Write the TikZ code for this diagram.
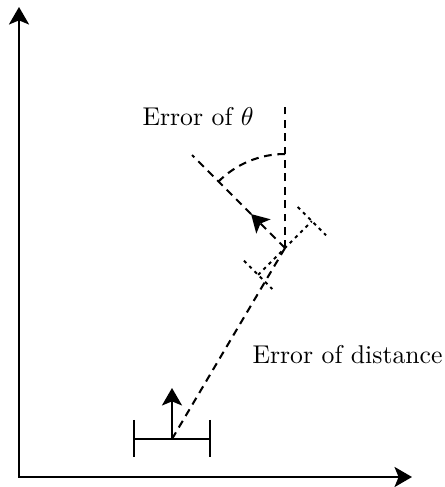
\documentclass[tikz,border=0pt]{standalone}
\usetikzlibrary{arrows.meta,calc}
\tikzset{
  tip/.tip={Stealth[length=6.8pt,width=7.8pt,inset=1.6pt]},
  axis/.style={line width=1pt,{tip}-{tip}},
  robot/.style={line width=0.9pt},
  guide/.style={line width=0.8pt,dash pattern=on 3pt off 2.2pt},
  errbar/.style={line width=0.8pt,dash pattern=on 1.3pt off 1.6pt},
  lbl/.style={inner sep=0pt,anchor=base west,font=\normalsize}
}
\begin{document}
\begin{tikzpicture}[x=0.389pt,y=0.389pt]
\useasboundingbox (0,0) rectangle (445,487);
% axes
\coordinate (ytop) at (19,480);
\coordinate (xend) at (412,10);
\draw[axis] (ytop) |- (xend);
% robot
\coordinate (bl) at (134,48);
\coordinate (br) at (210,48);
\coordinate (bltop) at (134,67);
\coordinate (blbot) at (134,30);
\coordinate (brtop) at (210,67);
\coordinate (brbot) at (210,30);
\coordinate (rc) at (172,48);
\coordinate (rh) at (172,99);
\draw[robot] (bl) -- (br);
\draw[robot] (bltop) -- (blbot);
\draw[robot] (brtop) -- (brbot);
\draw[robot,-{tip}] (rc) -- (rh);
% estimated pose
\coordinate (J) at (285,239);
\coordinate (vtop) at (285,382);
\coordinate (htip) at ($(J)+(135:48)$);
\coordinate (hend) at ($(J)+(135:131.5)$);
\draw[guide] (rc) -- (J);
\draw[guide] (J) -- (vtop);
\draw[guide,-{tip}] (J) -- (htip);
\draw[guide] (htip) -- (hend);
\draw[guide] ($(J)+(90:94)$) arc[start angle=90,end angle=135,radius=94];
% distance error bar
\coordinate (eu) at ($(J)+(45:38)$);
\coordinate (el) at ($(J)+(225:38)$);
\draw[errbar] (el) -- (eu);
\draw[errbar] ($(eu)+(135:20)$) -- ($(eu)+(-45:20)$);
\draw[errbar] ($(el)+(135:20)$) -- ($(el)+(-45:20)$);
% labels
\node[lbl] (lt) at (142,361) {Error of $\theta$};
\node[lbl] (ld) at (252,124) {Error of distance};
\end{tikzpicture}
\end{document}
